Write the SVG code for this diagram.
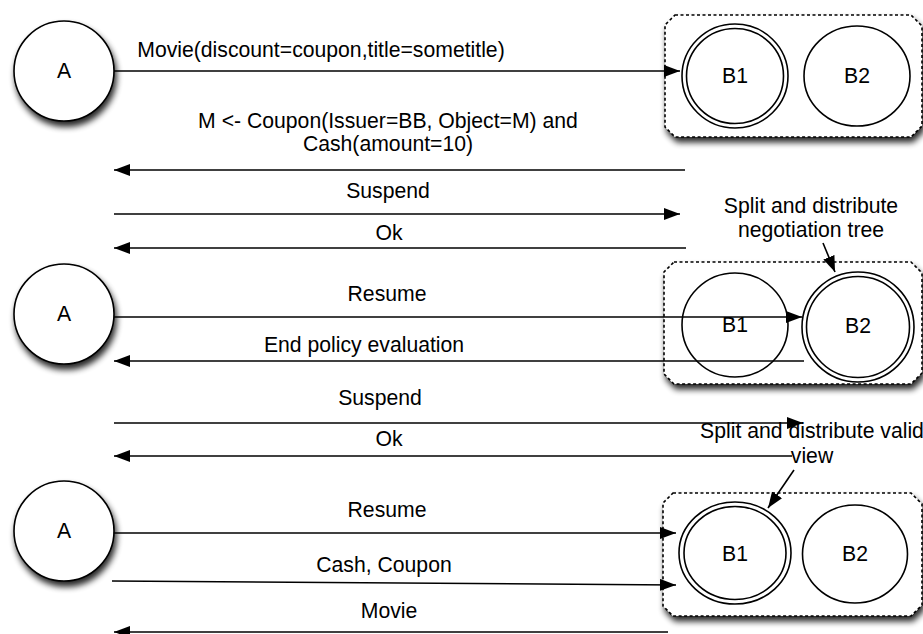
<svg xmlns="http://www.w3.org/2000/svg" width="923" height="634" viewBox="0 0 923 634">
  <style>
    text { font-family: "Liberation Sans", Arial, Helvetica, sans-serif; font-size: 21.2px; fill: #000; }
    .lbl { text-anchor: middle; }
    .node { fill: #fff; stroke: #000; stroke-width: 1.6; }
    .ring { fill: none; stroke: #000; stroke-width: 1.6; }
    .group { fill: #fff; stroke: #000; stroke-width: 1.6; stroke-dasharray: 3 2.5; }
    .msg { fill: none; stroke: #000; stroke-width: 1.6; }
    .msg.arr { marker-end: url(#head); }
  </style>
  <defs>
    <marker id="head" viewBox="0 0 16 12" refX="16" refY="6" markerWidth="16" markerHeight="12" markerUnits="userSpaceOnUse" orient="auto">
      <path d="M0,0 L16,6 L0,12 Z" fill="#000"/>
    </marker>
    <filter id="shadow" x="-20%" y="-20%" width="150%" height="160%">
      <feGaussianBlur in="SourceAlpha" stdDeviation="3"/>
      <feOffset dx="2" dy="5" result="blur"/>
      <feComponentTransfer><feFuncA type="linear" slope="0.85"/></feComponentTransfer>
      <feMerge><feMergeNode/><feMergeNode in="SourceGraphic"/></feMerge>
    </filter>
  </defs>

  <!-- peer groups (dotted, chamfered) -->
  <g id="group-1">
    <path class="group" filter="url(#shadow)" d="M675,15 H911 L922,26 V126 L911,137 H675 L665,127 V25 Z"/>
  </g>
  <g id="group-2">
    <path class="group" filter="url(#shadow)" d="M674,262 H911 L922,273 V373 L911,384 H674 L664,374 V272 Z"/>
  </g>
  <g id="group-3">
    <path class="group" filter="url(#shadow)" d="M673,493 H911 L922,504 V605 L911,616 H673 L663,606 V503 Z"/>
  </g>

  <!-- requester A, three stages -->
  <g id="a-1">
    <circle class="node" filter="url(#shadow)" cx="64" cy="71" r="50"/>
    <text class="lbl" x="64" y="78">A</text>
  </g>
  <g id="a-2">
    <circle class="node" filter="url(#shadow)" cx="64" cy="314" r="50"/>
    <text class="lbl" x="64" y="321">A</text>
  </g>
  <g id="a-3">
    <circle class="node" filter="url(#shadow)" cx="64" cy="531" r="50"/>
    <text class="lbl" x="64" y="538">A</text>
  </g>

  <!-- stage 1: B1 active -->
  <g id="b1-1">
    <ellipse class="node" cx="735" cy="76" rx="53" ry="52"/>
    <ellipse class="ring" cx="735" cy="76" rx="48.5" ry="47.5"/>
    <text class="lbl" x="735" y="83">B1</text>
  </g>
  <g id="b2-1">
    <ellipse class="node" cx="857" cy="76" rx="53" ry="50"/>
    <text class="lbl" x="857" y="83">B2</text>
  </g>

  <!-- stage 2: B2 active -->
  <g id="b1-2">
    <ellipse class="node" cx="735" cy="325" rx="53" ry="52"/>
    <text class="lbl" x="735" y="332">B1</text>
  </g>
  <g id="b2-2">
    <ellipse class="node" cx="858" cy="327" rx="56" ry="55"/>
    <ellipse class="ring" cx="858" cy="327" rx="51.5" ry="50.5"/>
    <text class="lbl" x="858" y="333">B2</text>
  </g>

  <!-- stage 3: B1 active -->
  <g id="b1-3">
    <ellipse class="node" cx="735" cy="553" rx="56" ry="51"/>
    <ellipse class="ring" cx="735" cy="553" rx="51" ry="46.5"/>
    <text class="lbl" x="735" y="561">B1</text>
  </g>
  <g id="b2-3">
    <ellipse class="node" cx="855" cy="554" rx="52.5" ry="49"/>
    <text class="lbl" x="855" y="561">B2</text>
  </g>

  <!-- messages -->
  <g id="connectors">
    <path class="msg arr" d="M114,71 H680"/>
    <text class="lbl" x="321" y="57">Movie(discount=coupon,title=sometitle)</text>

    <path class="msg arr" d="M685,170 H114"/>
    <text class="lbl" x="388" y="128">M &lt;- Coupon(Issuer=BB, Object=M) and</text>
    <text class="lbl" x="388" y="151">Cash(amount=10)</text>

    <path class="msg arr" d="M114,214 H680"/>
    <text class="lbl" x="388" y="198">Suspend</text>

    <path class="msg arr" d="M686,248 H114"/>
    <text class="lbl" x="389" y="240">Ok</text>

    <path class="msg arr" d="M823,243 L835,272"/>
    <text class="lbl" x="811" y="213">Split and distribute</text>
    <text class="lbl" x="811" y="237">negotiation tree</text>

    <path class="msg arr" d="M114,317 H802"/>
    <text class="lbl" x="387" y="301">Resume</text>

    <path class="msg arr" d="M804,361 H114"/>
    <text class="lbl" x="364" y="352">End policy evaluation</text>

    <path class="msg arr" d="M114,423 H803"/>
    <text class="lbl" x="380" y="405">Suspend</text>

    <path class="msg arr" d="M792,456 H114"/>
    <text class="lbl" x="389" y="446">Ok</text>

    <path class="msg arr" d="M794,470 L768,508"/>
    <text class="lbl" x="812" y="438">Split and distribute valid</text>
    <text class="lbl" x="812" y="463">view</text>

    <path class="msg arr" d="M114,533 H676"/>
    <text class="lbl" x="387" y="517">Resume</text>

    <path class="msg arr" d="M112,581 L676,585"/>
    <text class="lbl" x="384" y="572">Cash, Coupon</text>

    <path class="msg arr" d="M668,632 H114"/>
    <text class="lbl" x="389" y="618">Movie</text>
  </g>
</svg>
